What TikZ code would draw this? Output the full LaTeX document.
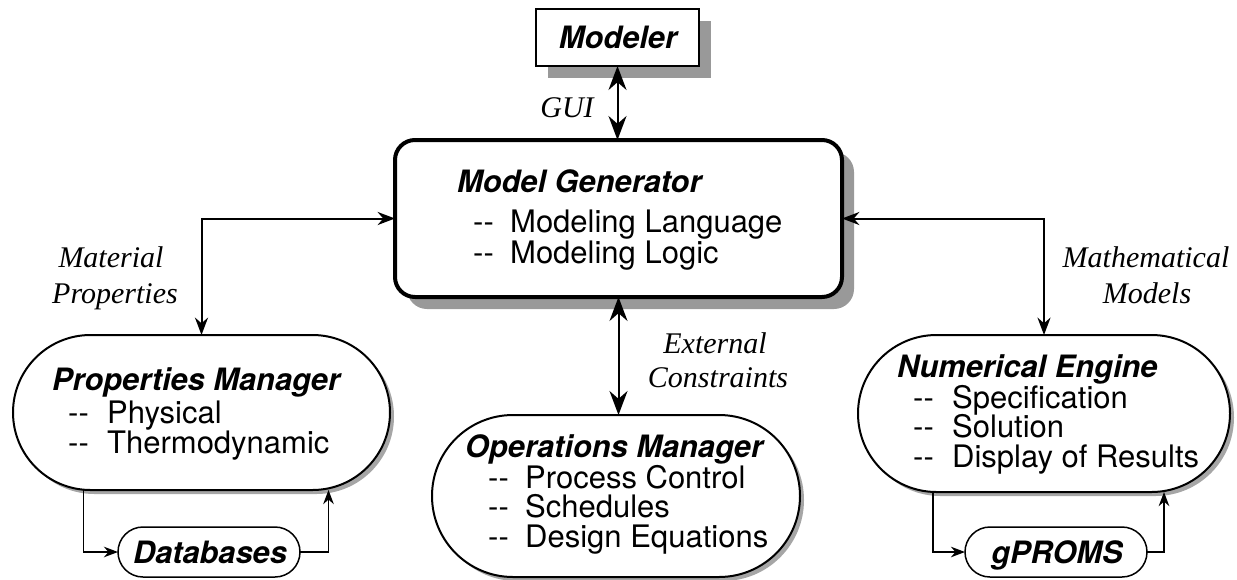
\documentclass[tikz,border=0pt]{standalone}
\usepackage{fontspec}
\setmainfont{Liberation Serif}
\setsansfont{TeX Gyre Heros}
\usetikzlibrary{shapes.misc,arrows.meta,shadows}
\newcommand\dashpair{\mbox{-}\mbox{-}}
\tikzset{
  title/.style={font=\sffamily\bfseries\itshape\fontsize{30.8}{30}\selectfont, inner sep=0pt},
  item/.style={font=\sffamily\fontsize{31}{30}\selectfont, inner sep=0pt, anchor=base west},
  lbl/.style={font=\itshape\fontsize{30}{30}\selectfont, inner sep=0pt, anchor=base},
  bigshadow/.style={drop shadow={shadow xshift=12pt,shadow yshift=-12pt,fill=black!40,opacity=1}},
  smallshadow/.style={drop shadow={shadow xshift=4pt,shadow yshift=-4pt,fill=black!35,opacity=1}},
  stadium/.style={rounded rectangle, draw, line width=2pt, fill=white, inner sep=0pt, outer sep=0pt, smallshadow},
  pill/.style={rounded rectangle, draw, line width=1.5pt, fill=white, inner sep=0pt, outer sep=0pt, minimum width=182pt, minimum height=50pt},
}
\begin{document}
\begin{tikzpicture}[x=1pt,y=-1pt]
\useasboundingbox (0,0) rectangle (1237,579);
% boxes
\node[draw, line width=2pt, fill=white, minimum width=163pt, minimum height=57pt, inner sep=0pt, outer sep=0pt, bigshadow] (modeler) at (617.5,37.5) {};
\node[draw, line width=4pt, fill=white, rounded corners=20pt, minimum width=447pt, minimum height=157pt, inner sep=0pt, outer sep=0pt, bigshadow] (mg) at (618.5,218.5) {};
\node[stadium, minimum width=377pt, minimum height=155pt] (pm) at (201.5,412.5) {};
\node[stadium, minimum width=372pt, minimum height=157pt] (ne) at (1044,413.5) {};
\node[stadium, minimum width=368pt, minimum height=162pt] (om) at (616,496) {};
\node[pill] (db) at (209,552) {};
\node[pill] (gp) at (1056,552) {};
% connectors
\draw[line width=2pt, {Stealth[scale=2]}-{Stealth[scale=2]}] (modeler.south) -- (modeler.south |- mg.north);
\draw[line width=2pt, {Stealth[scale=1.45]}-{Stealth[scale=1.45]}] (mg.west) -| (pm.north);
\draw[line width=2pt, {Stealth[scale=1.45]}-{Stealth[scale=1.45]}] (mg.east) -| (ne.north);
\draw[line width=2pt, {Stealth[scale=2]}-{Stealth[scale=2]}] (mg.south) -- (mg.south |- om.north);
\draw[line width=1.3pt, -{Stealth[scale=1.6]}] ([xshift=-118pt]pm.south) |- (db.west);
\draw[line width=1.3pt, -{Stealth[scale=1.6]}] (db.east) -| ([xshift=127pt]pm.south);
\draw[line width=1.3pt, -{Stealth[scale=1.6]}] ([xshift=-111pt]ne.south) |- (gp.west);
\draw[line width=1.3pt, -{Stealth[scale=1.6]}] (gp.east) -| ([xshift=120pt]ne.south);
% texts
\node[title, anchor=base] (tmodeler) at (618,48) {Modeler};
\node[lbl] (lgui) at (567,117) {GUI};
\node[title, anchor=base west] (tmg) at (457,192) {Model Generator};
\node[item] (mg1) at (473,232) {\makebox[37pt][l]{\dashpair}Modeling Language};
\node[item] (mg2) at (473,263) {\makebox[37pt][l]{\dashpair}Modeling Logic};
\node[title, anchor=base west] (tpm) at (52,390) {Properties Manager};
\node[item] (pm1) at (68,423) {\makebox[39pt][l]{\dashpair}Physical};
\node[item] (pm2) at (68,453) {\makebox[39pt][l]{\dashpair}Thermodynamic};
\node[title, anchor=base west] (tne) at (897,377) {Numerical Engine};
\node[item] (ne1) at (913,408) {\makebox[39pt][l]{\dashpair}Specification};
\node[item] (ne2) at (913,437) {\makebox[39pt][l]{\dashpair}Solution};
\node[item] (ne3) at (913,467) {\makebox[39pt][l]{\dashpair}Display of Results};
\node[title, anchor=base west] (tom) at (465,457) {Operations Manager};
\node[item] (om1) at (488,488) {\makebox[37pt][l]{\dashpair}Process Control};
\node[item] (om2) at (488,517) {\makebox[37pt][l]{\dashpair}Schedules};
\node[item] (om3) at (488,547) {\makebox[37pt][l]{\dashpair}Design Equations};
\node[title, anchor=base] (tdb) at (210,563) {Databases};
\node[title, anchor=base] (tgp) at (1057,563) {gPROMS};
\node[lbl] (lmat1) at (111,267) {Material};
\node[lbl] (lmat2) at (115,303) {Properties};
\node[lbl] (lmath1) at (1146,267) {Mathematical};
\node[lbl] (lmath2) at (1147,303) {Models};
\node[lbl] (lext1) at (715,353) {External};
\node[lbl] (lext2) at (718,387) {Constraints};
\end{tikzpicture}
\end{document}
